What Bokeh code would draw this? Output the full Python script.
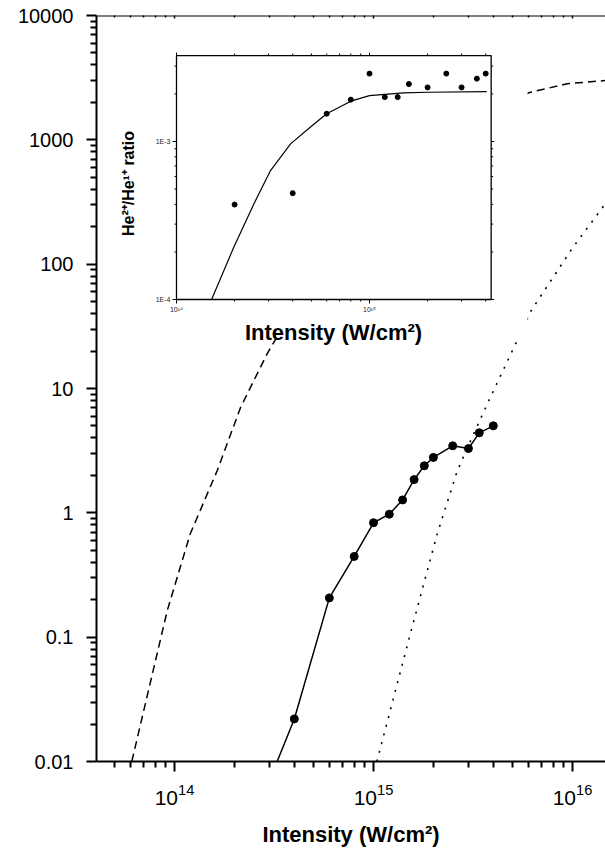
import numpy as np
from bokeh.plotting import figure
from bokeh.models import (Range1d, LogScale, LogAxis, FixedTicker,
                          CustomJSTickFormatter, LogTickFormatter, Label)
from bokeh.core.properties import value
from bokeh.embed import file_html
from bokeh.resources import INLINE

# ---------------- data ----------------
# measured ion signal (filled circles joined by a solid line)
meas_I = [4.0e14, 6.0e14, 8.0e14, 1.0e15, 1.2e15, 1.4e15, 1.6e15, 1.8e15,
          2.0e15, 2.5e15, 3.0e15, 3.4e15, 4.0e15]
meas_S = [0.022, 0.207, 0.446, 0.832, 0.975, 1.27, 1.85, 2.39,
          2.79, 3.46, 3.29, 4.40, 5.01]
# the solid line starts at the lower axis
line_I = [3.28e14] + meas_I
line_S = [0.01] + meas_S

# dashed calculated curve
dash_I = [6.1e13, 9.2e13, 1.2e14, 1.64e14, 2.15e14, 2.92e14, 4.0e14, 6.0e14,
          1.0e15, 2.0e15, 4.0e15, 6.1e15, 9.4e15, 1.47e16]
dash_S = [0.01, 0.164, 0.678, 2.19, 7.07, 19.0, 45.0, 130.0,
          350.0, 1000.0, 1900.0, 2404.0, 2825.0, 3000.0]

# dotted calculated curve
dot_I = [1.04e15, 1.53e15, 2.09e15, 2.64e15, 3.13e15, 3.80e15, 5.27e15,
         6.2e15, 1.0e16, 1.44e16]
dot_S = [0.01, 0.106, 0.677, 2.19, 4.06, 8.0, 24.3, 42.4, 135.0, 296.0]

# inset: He2+/He1+ ratio
ins_I = [2.0e14, 4.0e14, 6.0e14, 8.0e14, 1.0e15, 1.2e15, 1.4e15, 1.6e15,
         2.0e15, 2.5e15, 3.0e15, 3.6e15, 4.0e15]
ins_R = [3.99e-4, 4.71e-4, 1.50e-3, 1.84e-3, 2.69e-3, 1.91e-3, 1.91e-3,
         2.31e-3, 2.20e-3, 2.69e-3, 2.20e-3, 2.50e-3, 2.69e-3]
fit_I = [1.52e14, 1.98e14, 2.52e14, 3.07e14, 3.9e14, 5.0e14, 6.0e14, 8.0e14,
         1.0e15, 1.5e15, 2.0e15, 4.05e15]
fit_R = [1.0e-4, 2.14e-4, 4.04e-4, 6.55e-4, 9.66e-4, 1.25e-3, 1.50e-3, 1.80e-3,
         1.95e-3, 2.03e-3, 2.05e-3, 2.07e-3]

# tick values
x_major = [1e13, 1e14, 1e15, 1e16]
x_minor = [m * 10.0 ** e for e in (13, 14, 15, 16) for m in range(2, 10)]
y_major = [1e-2, 1e-1, 1e0, 1e1, 1e2, 1e3, 1e4]
y_minor = [m * 10.0 ** e for e in range(-2, 4) for m in range(2, 10)]
ins_x_major = [1e14, 1e15]
ins_x_labels = ["10\u00b9\u2074", "10\u00b9\u2075"]
ins_x_minor = [m * 10.0 ** e for e in (14, 15) for m in range(2, 10)]
ins_y_major = [1e-4, 1e-3]
ins_y_labels = ["1E-4", "1E-3"]
ins_y_minor = [m * 10.0 ** e for e in (-4, -3) for m in range(2, 10)]

# inset axis extents
ins_x_bounds = (1e14, 4.27e15)
ins_y_bounds = (1e-4, 3.5e-3)

# ---------------- layout geometry (page pixels) ----------------
FONT = "Liberation Sans"
W, H = 605, 850
FL, FR, FT, FB = 96, 605, 15, 761   # frame edges on page
X_DEC_PX, X14_PX = 199.0, 174.0
Y_DEC_PX = (FB - FT) / 6.0
IX_DEC_PX, IX14_PX = 193.0, 176.0
IY_DEC_PX, IY4_PX = 158.0, 299.0

def mx(px):  # page x -> main data x
    return 10 ** (14 + (px - X14_PX) / X_DEC_PX)

def my(py):  # page y -> main data y
    return 10 ** (-2 + (FB - py) / Y_DEC_PX)

def ix(px):
    return 10 ** (14 + (px - IX14_PX) / IX_DEC_PX)

def iy(py):
    return 10 ** (-4 + (IY4_PX - py) / IY_DEC_PX)

p = figure(width=W, height=H, output_backend="svg", toolbar_location=None,
           x_axis_type="log", y_axis_type="log",
           x_range=Range1d(mx(FL), mx(FR)), y_range=Range1d(1e-2, 1e4),
           min_border_left=FL, min_border_right=0,
           min_border_top=FT, min_border_bottom=H - FB)
p.grid.visible = False
p.outline_line_color = None
p.background_fill_color = "white"
p.border_fill_color = "white"

p.extra_x_ranges = {"ix": Range1d(ix(FL), ix(FR))}
p.extra_y_ranges = {"iy": Range1d(iy(FB), iy(FT))}
p.extra_x_scales = {"ix": LogScale()}
p.extra_y_scales = {"iy": LogScale()}

# main axes
xa = p.xaxis[0]
xa.ticker = FixedTicker(ticks=x_major, minor_ticks=x_minor)
xa.formatter = LogTickFormatter()
ya = p.yaxis[0]
ya.ticker = FixedTicker(ticks=y_major, minor_ticks=y_minor)
ya.formatter = CustomJSTickFormatter(code="return String(Number(tick.toPrecision(6)))")
for ax in (xa, ya):
    ax.axis_line_width = 2
    ax.axis_line_color = "black"
    ax.major_tick_line_width = 2
    ax.minor_tick_line_width = 2
    ax.major_tick_line_color = "black"
    ax.minor_tick_line_color = "black"
    ax.major_tick_in = 0
    ax.major_tick_out = 10
    ax.minor_tick_in = 0
    ax.minor_tick_out = 6
    ax.major_label_text_font = FONT
    ax.major_label_text_color = "black"
xa.major_label_text_font_size = "21px"
xa.major_label_standoff = 12
xa.axis_label = "Intensity (W/cm\u00b2)"
xa.axis_label_text_font = FONT
xa.axis_label_text_font_style = "bold"
xa.axis_label_text_font_size = "22px"
xa.axis_label_text_color = "black"
xa.axis_label_standoff = 14
ya.major_label_text_font_size = "20px"
ya.major_label_standoff = 13

top = LogAxis(ticker=FixedTicker(ticks=x_major, minor_ticks=x_minor),
              fixed_location=1e4, axis_line_width=2, axis_line_color="black",
              major_tick_in=3, major_tick_out=3, minor_tick_in=2, minor_tick_out=2,
              major_tick_line_width=1.5, minor_tick_line_width=1.5,
              major_label_text_color=None)
p.add_layout(top, "above")

# main curves
p.line(dash_I, dash_S, line_color="black", line_width=1.5, line_dash="8 5")
p.line(dot_I, dot_S, line_color="black", line_width=1.6, line_dash="2 7")
p.line(line_I, line_S, line_color="black", line_width=1.5)
p.scatter(meas_I, meas_S, size=8, color="black")

# ---------------- inset ----------------
R = dict(x_range_name="ix", y_range_name="iy")
# white background of the inset layer
p.quad(left=[ix(112)], right=[ix(527)], bottom=[iy(338)], top=[iy(42)],
       fill_color="white", line_color=None, **R)

p.line(fit_I, fit_R, line_color="black", line_width=1.2, **R)
p.scatter(ins_I, ins_R, size=5, color="black", **R)

# frame
x0, x1 = ins_x_bounds
y0, y1 = ins_y_bounds
p.line([x0, x1, x1, x0, x0], [y0, y0, y1, y1, y0],
       line_color="black", line_width=1.3, **R)

# ticks
yt_maj = [t for t in ins_y_major if y0 <= t <= y1]
yt_min = [t for t in ins_y_minor if y0 < t < y1]
xt_maj = [t for t in ins_x_major if x0 <= t <= x1]
xt_min = [t for t in ins_x_minor if x0 < t < x1]

def ticks(xs, ys, length, angle):
    p.ray(x=xs, y=ys, length=length, length_units="screen", angle=angle,
          line_color="black", line_width=1, **R)

ticks([x0] * len(yt_maj), yt_maj, 4, np.pi)          # left, outward
ticks([x0] * len(yt_min), yt_min, 2, np.pi)
ticks([x1] * len(yt_maj), yt_maj, 3, 0.0)            # right
ticks([x1] * len(yt_min), yt_min, 2, 0.0)
ticks(xt_maj, [y0] * len(xt_maj), 4, -np.pi / 2)     # bottom
ticks(xt_min, [y0] * len(xt_min), 2, -np.pi / 2)
ticks(xt_maj, [y1] * len(xt_maj), 3, np.pi / 2)      # top
ticks(xt_min, [y1] * len(xt_min), 2, np.pi / 2)

# tick labels
p.text(x=[x0] * len(ins_y_major), y=ins_y_major, text=ins_y_labels,
       x_offset=-6, text_align="right", text_baseline="middle",
       text_font=value(FONT), text_font_size=value("7px"), text_color="#222", **R)
p.text(x=ins_x_major, y=[y0] * len(ins_x_major), text=ins_x_labels,
       y_offset=6, text_align="center", text_baseline="top",
       text_font=value(FONT), text_font_size=value("7px"), text_color="#222", **R)

# axis titles
def title(text, px, py, size, angle=0.0):
    p.add_layout(Label(x=mx(px), y=my(py), text=text, angle=angle,
                       text_font=FONT, text_font_style="bold",
                       text_font_size=size, text_color="black",
                       text_align="center", text_baseline="middle"))

title("Ion signal", 17, 403, "22px", np.pi / 2)
title("He\u00b2\u207a/He\u00b9\u207a ratio", 127.5, 183, "16px", np.pi / 2)
title("Intensity (W/cm\u00b2)", 333, 332, "22px")

open("out.html", "w").write(file_html(p, INLINE))
